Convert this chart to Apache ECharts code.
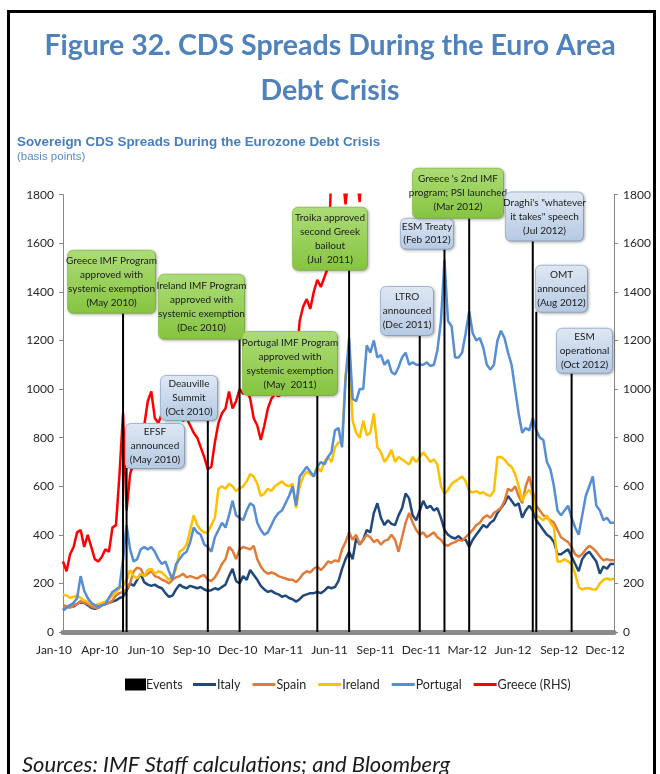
<!DOCTYPE html>
<html>
<head>
<meta charset="utf-8">
<script src="https://cdn.jsdelivr.net/npm/echarts@6.0.0/dist/echarts.min.js"></script>
<style>
  html, body { margin: 0; padding: 0; background: #fff; }
  #chart { width: 660px; height: 774px; }
</style>
</head>
<body>
<div id="chart"></div>
<script>
// weekly observations, Jan 2010 - Dec 2012
const categories = [];
for (let i = 0; i < 157; i++) {
  const d = new Date(2010, 0, 1 + i * 7);
  categories.push(d.toISOString().slice(0, 10));
}
const tickLabels = ['Jan-10', 'Apr-10', 'Jun-10', 'Sep-10', 'Dec-10', 'Mar-11', 'Jun-11',
  'Sep-11', 'Dec-11', 'Mar-12', 'Jun-12', 'Sep-12', 'Dec-12'];

const italy = [
  90, 100, 110, 105, 115, 125, 120, 110, 100, 95,
  100, 110, 115, 120, 125, 130, 140, 145, 170, 200,
  190, 215, 240, 205, 195, 190, 195, 185, 180, 160,
  145, 150, 175, 195, 185, 180, 190, 185, 180, 185,
  175, 170, 172, 180, 175, 185, 195, 230, 260, 210,
  200, 230, 215, 255, 235, 215, 190, 175, 165, 170,
  160, 155, 145, 150, 140, 135, 125, 135, 150, 155,
  160, 160, 165, 160, 170, 185, 180, 185, 210, 260,
  300, 330, 300, 385, 360, 380, 420, 410, 490, 530,
  470, 440, 460, 445, 440, 480, 510, 570, 550, 480,
  460, 500, 540, 510, 520, 500, 510, 470, 420, 400,
  390, 385, 395, 380, 380, 350, 380, 400, 420, 440,
  430, 450, 460, 490, 510, 530, 560, 540, 520, 530,
  470, 500, 520, 500, 460, 440, 420, 400, 390, 370,
  320, 320, 330, 340, 310, 280, 250, 300, 320, 330,
  310, 290, 240, 270, 260, 280, 280
];
const spain = [
  110, 105, 100, 110, 115, 125, 120, 115, 105, 100,
  100, 110, 115, 120, 130, 150, 160, 165, 175, 200,
  250, 265, 260, 230, 240, 250, 230, 225, 215, 210,
  200, 215, 225, 230, 240, 225, 230, 225, 220, 230,
  235, 215, 210, 225, 250, 280, 300, 350, 335, 300,
  340, 350, 345, 340, 355, 300, 270, 250, 240, 245,
  240, 230, 225, 220, 215, 215, 205, 220, 240, 250,
  245, 260, 270, 255, 270, 290, 285, 295, 290, 340,
  370, 410, 380, 400, 360, 380, 400, 390, 370, 380,
  360, 375, 380, 400, 380, 330, 390, 450, 490, 450,
  420, 400, 410, 390, 400, 410, 390, 380, 360, 355,
  365, 370, 380, 375, 390, 405, 420, 440, 450, 470,
  480, 470, 490, 500, 510, 540, 590, 580, 600, 560,
  530, 600, 640, 580, 520, 500, 480, 470, 460, 450,
  420, 390, 380, 370, 350, 320, 310, 320, 340, 355,
  345, 330, 310, 295, 300, 295, 295
];
const ireland = [
  155, 150, 140, 145, 150, 140, 130, 125, 115, 110,
  115, 120, 125, 135, 150, 165, 180, 190, 215, 255,
  230, 220, 240, 230, 255, 260, 240, 250, 245, 230,
  215, 230, 260, 330, 340, 360, 420, 480, 440, 420,
  410, 410, 440, 470, 590, 600, 590, 610, 600, 580,
  590, 600, 620, 650, 640, 610, 560, 570, 590, 580,
  600, 610, 620, 605, 600, 610, 510, 600, 640, 660,
  650, 640, 680, 660, 700, 720, 700, 760, 780, 780,
  1060, 1140, 870, 820, 800, 870, 810, 820, 900, 760,
  740, 700, 720, 750, 700, 720, 710, 700, 690, 720,
  700, 720, 740, 720, 700, 710, 690, 600, 570, 585,
  610, 620, 630, 640, 620, 580, 575, 580, 570, 575,
  565, 560, 580, 720, 720, 710, 690, 680, 650, 600,
  540, 570, 585, 560, 480, 470, 460, 480, 450, 430,
  290, 290, 300, 290, 280, 240, 185, 175, 180, 180,
  175, 175, 200, 215, 220, 215, 220
];
const portugal = [
  90, 100, 110, 120, 140, 230, 170, 140, 120, 110,
  105, 110, 115, 140, 165, 175, 185, 300, 440, 340,
  290, 300, 340, 350, 340, 350, 330, 300, 280, 290,
  250, 215, 280, 300, 320, 330, 370, 430, 410, 400,
  360, 350, 330, 390, 420, 450, 430, 480, 540, 480,
  470, 460, 500, 530, 520, 450, 420, 400, 410, 440,
  470, 490, 500, 530, 560, 600, 520, 640, 660, 680,
  660, 640, 680, 700, 690, 720, 740, 830, 840, 760,
  1040, 1210, 960, 950, 1000, 1000, 1180, 1150, 1200, 1130,
  1140, 1100, 1120, 1070, 1060, 1090, 1130, 1150, 1100, 1110,
  1100, 1100, 1100, 1110, 1095, 1100, 1160, 1280, 1530, 1280,
  1260, 1130, 1130, 1150, 1230, 1320, 1230, 1200, 1210, 1170,
  1100, 1080, 1100, 1200, 1240, 1210, 1150, 1100, 1000, 900,
  820, 840, 830, 880, 830, 800, 790, 700, 670, 600,
  500, 480, 500, 520, 470, 430, 400, 480, 560, 600,
  640, 520, 500, 460, 470, 450, 450
];
// Greece runs off the top of the scale from mid-2011
const greece = [
  290, 250, 320, 350, 410, 420, 350, 400, 350, 300,
  290, 310, 340, 330, 430, 440, 650, 900, 500, 650,
  700, 760, 800, 850, 950, 990, 880, 860, 900, 920,
  900, 880, 900, 880, 870, 880, 850, 820, 800, 760,
  720, 670, 680, 780, 860, 900, 920, 990, 920, 950,
  1000, 980, 1000, 960, 880, 850, 790, 850, 920, 960,
  980, 970, 980, 975, 990, 1000, 1100, 1280, 1340, 1370,
  1330, 1400, 1450, 1420, 1460, 1500, 1900, 1900, 1950, 1900,
  1760, 1900, 2000, 1900, 1770, 2000, 2200
];

const eventIdx = [17, 18, 41, 50, 72, 81, 101, 108, 115, 133, 134, 144];
const eventHeight = [1314, 675, 873, 1207, 976, 1491, 1223, 1578, 1705, 1611, 1318, 1067];
const eventText = [
  'Greece IMF Program\napproved with\nsystemic exemption\n(May 2010)',
  'EFSF\nannounced\n(May 2010)',
  'Deauville\nSummit\n(Oct 2010)',
  'Ireland IMF Program\napproved with\nsystemic exemption\n(Dec 2010)',
  'Portugal IMF Program\napproved with\nsystemic exemption\n(May  2011)',
  'Troika approved\nsecond Greek\nbailout\n(Jul  2011)',
  'LTRO\nannounced\n(Dec 2011)',
  'ESM Treaty\n(Feb 2012)',
  "Greece 's 2nd IMF\nprogram; PSI launched\n(Mar 2012)",
  'Draghi\'s "whatever\nit takes" speech\n(Jul 2012)',
  'OMT\nannounced\n(Aug 2012)',
  'ESM\noperational\n(Oct 2012)'
];
const eventKind = ['g', 'b', 'b', 'g', 'g', 'g', 'b', 'b', 'g', 'b', 'b', 'b'];

// callout box sizes and horizontal shift from the event line
const boxW = [87, 58, 56, 85, 94, 74, 52, 52, 90, 77, 51, 55];
const boxH = [62, 42, 43, 64, 63, 62, 48, 30, 49, 48, 46, 44];
const boxDx = [-11.5, 28.4, -18.8, -38.1, -27.3, -19.1, -12.7, -17.5, -11.2, 11.7, 25.2, 12.9];

const FONT = "Lato, 'DejaVu Sans Condensed', sans-serif";
const BLUE_TITLE = '#4A7EBB';

const greenFill = new echarts.graphic.LinearGradient(0, 0, 0, 1, [
  { offset: 0, color: '#ACDC78' },
  { offset: 1, color: '#86C43F' }
]);
const blueFill = new echarts.graphic.LinearGradient(0, 0, 0, 1, [
  { offset: 0, color: '#DFE8F4' },
  { offset: 1, color: '#B4C9E3' }
]);

const eventData = eventIdx.map((idx, k) => {
  const lines = eventText[k].split('\n').length;
  const lh = lines === 2 ? 13 : 14;
  const padY = Math.max(1, (boxH[k] - lines * lh) / 2);
  const green = eventKind[k] === 'g';
  return {
    value: [idx, eventHeight[k]],
    label: {
      show: true,
      position: 'top',
      distance: 0,
      offset: [boxDx[k], 0],
      formatter: eventText[k],
      width: boxW[k] - 2,
      align: 'center',
      lineHeight: lh,
      padding: [padY, 1],
      fontFamily: FONT,
      fontSize: 10,
      color: '#1a1a1a',
      backgroundColor: green ? greenFill : blueFill,
      borderColor: green ? '#9ACD5E' : '#A9BED9',
      borderWidth: 1,
      borderRadius: 5,
      shadowColor: 'rgba(0,0,0,0.25)',
      shadowBlur: 3,
      shadowOffsetX: 1,
      shadowOffsetY: 1
    }
  };
});

const chart = echarts.init(document.getElementById('chart'));

const lineSeries = (name, data, color, axis) => ({
  name: name,
  type: 'line',
  data: data,
  yAxisIndex: axis,
  symbol: 'none',
  lineStyle: { width: 2.5, color: color },
  itemStyle: { color: color },
  z: 2
});

const valueAxis = (pos) => ({
  type: 'value',
  position: pos,
  min: 0,
  max: 1800,
  interval: 200,
  axisLine: { show: true, lineStyle: { color: '#868686', width: 1 } },
  axisTick: { show: true, inside: false, length: 4, lineStyle: { color: '#868686' } },
  axisLabel: {
    color: '#262626', fontSize: 12, fontFamily: FONT, margin: 9,
    formatter: (v) => String(v)
  },
  splitLine: { show: false }
});

chart.setOption({
  animation: false,
  backgroundColor: '#fff',
  title: [
    {
      text: 'Figure 32. CDS Spreads During the Euro Area\nDebt Crisis',
      left: 'center',
      top: 23,
      padding: 0,
      textStyle: {
        fontFamily: FONT,
        fontSize: 28.5,
        fontWeight: 'bold',
        lineHeight: 45,
        color: '#4F81BD'
      }
    },
    {
      text: 'Sovereign CDS Spreads During the Eurozone Debt Crisis',
      left: 17,
      top: 136,
      padding: 0,
      textStyle: { fontFamily: 'Liberation Sans', fontSize: 13.4, fontWeight: 'bold', color: BLUE_TITLE }
    },
    {
      text: '(basis points)',
      left: 17,
      top: 151,
      padding: 0,
      textStyle: { fontFamily: 'Liberation Sans', fontSize: 11.5, fontWeight: 'normal', color: '#5B8BC4' }
    },
    {
      text: 'Sources: IMF Staff calculations; and Bloomberg',
      left: 22,
      top: 754,
      padding: 0,
      textStyle: { fontFamily: FONT, fontSize: 22, fontStyle: 'italic', fontWeight: 'normal', color: '#1a1a1a' }
    }
  ],
  graphic: [
    {
      type: 'rect',
      shape: { x: 8.5, y: 11.5, width: 646, height: 800 },
      style: { fill: 'none', stroke: '#000', lineWidth: 3 },
      silent: true
    }
  ],
  legend: [
    {
      left: 125,
      top: 678,
      padding: 0,
      itemWidth: 21,
      itemHeight: 12,
      itemGap: 0,
      icon: 'rect',
      textStyle: { fontFamily: FONT, fontSize: 12.5, color: '#262626', padding: [0, 0, 0, -5] },
      data: ['Events']
    },
    {
      left: 193,
      top: 678,
      padding: 0,
      itemWidth: 23,
      itemHeight: 3,
      itemGap: 12,
      icon: 'rect',
      textStyle: { fontFamily: FONT, fontSize: 12.5, color: '#262626', padding: [0, 0, 0, -4] },
      data: ['Italy', 'Spain', 'Ireland', 'Portugal', 'Greece (RHS)']
    }
  ],
  grid: { left: 63, right: 46, top: 194.7, bottom: 142, containLabel: false },
  xAxis: {
    type: 'category',
    data: categories,
    boundaryGap: false,
    axisLine: { show: true, lineStyle: { color: '#8A8A8A', width: 5 } },
    axisTick: { show: false },
    axisLabel: {
      interval: 12,
      margin: 12,
      color: '#262626',
      fontSize: 12,
      fontFamily: FONT,
      padding: [0, 18, 0, 0],
      formatter: (v, i) => tickLabels[Math.round(i / 13)]
    },
    splitLine: { show: false }
  },
  yAxis: [valueAxis('left'), valueAxis('right')],
  series: [
    {
      name: 'Events',
      type: 'bar',
      data: eventData,
      barWidth: 2,
      itemStyle: { color: '#000' },
      z: 5
    },
    lineSeries('Italy', italy, '#1F497D', 0),
    lineSeries('Spain', spain, '#E07B39', 0),
    lineSeries('Ireland', ireland, '#FFC000', 0),
    lineSeries('Portugal', portugal, '#558ED5', 0),
    lineSeries('Greece (RHS)', greece, '#FF0000', 1)
  ]
});
</script>
</body>
</html>
